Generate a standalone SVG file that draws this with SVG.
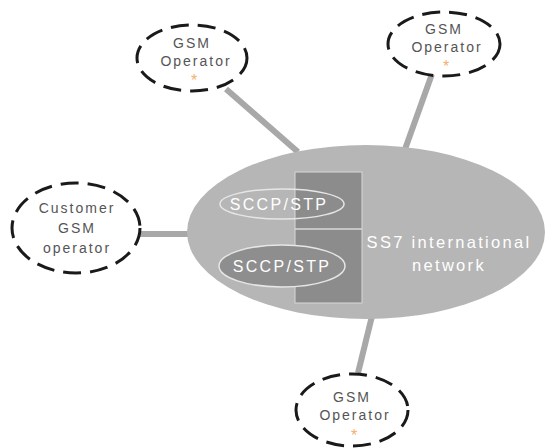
<svg xmlns="http://www.w3.org/2000/svg" width="546" height="448" viewBox="0 0 546 448">
<style>
.op{fill:#fff;stroke:#1a1a1a;stroke-width:3;stroke-dasharray:18 9}
.t{font-family:"Liberation Sans",Arial,sans-serif;font-size:14px;fill:#555;text-anchor:middle;letter-spacing:2px}
.ast{font-family:"Liberation Sans",Arial,sans-serif;font-size:16px;fill:#f2b070;text-anchor:middle}
.w{font-family:"Liberation Sans",Arial,sans-serif;fill:#fff;text-anchor:middle;letter-spacing:2.3px}
.c{stroke:#a8a8a8;stroke-width:6;fill:none}
</style>
<rect width="546" height="448" fill="#fff"/>
<g id="connectors">
<line class="c" x1="226" y1="89" x2="298" y2="152"/>
<line class="c" x1="432" y1="74" x2="404" y2="152"/>
<line class="c" x1="139" y1="234" x2="192" y2="234"/>
<line class="c" x1="373" y1="312" x2="358" y2="373"/>
</g>
<g id="ss7">
<ellipse cx="366" cy="232" rx="179" ry="87" fill="#b6b6b6"/>
<rect x="295" y="172" width="67" height="131" fill="#8c8c8c" stroke="#d8d8d8" stroke-width="1"/>
<line x1="295" y1="229" x2="362" y2="229" stroke="#d8d8d8" stroke-width="1.5"/>
<text class="w" x="449" y="248" font-size="16.5">SS7 international</text>
<text class="w" x="449" y="271" font-size="16.5">network</text>
</g>
<g id="sccp1">
<ellipse cx="282" cy="204" rx="62" ry="15" fill="none" stroke="#e6e6e6" stroke-width="1.5"/>
<text class="w" x="279" y="210" font-size="16">SCCP/STP</text>
</g>
<g id="sccp2">
<ellipse cx="282" cy="266" rx="63" ry="21" fill="#8e8e8e" stroke="#e6e6e6" stroke-width="1.5"/>
<text class="w" x="282" y="272" font-size="16">SCCP/STP</text>
</g>
<g id="op-top-left">
<ellipse class="op" cx="192" cy="58" rx="55" ry="33"/>
<text class="t" x="192" y="48">GSM</text>
<text class="t" x="196" y="66">Operator</text>
<text class="ast" x="194" y="86">*</text>
</g>
<g id="op-top-right">
<ellipse class="op" cx="444" cy="44" rx="56" ry="32"/>
<text class="t" x="444" y="34">GSM</text>
<text class="t" x="447" y="52">Operator</text>
<text class="ast" x="446" y="72">*</text>
</g>
<g id="op-left">
<ellipse class="op" cx="76" cy="228" rx="64" ry="45"/>
<text class="t" x="77" y="213">Customer</text>
<text class="t" x="77" y="233">GSM</text>
<text class="t" x="77" y="253">operator</text>
</g>
<g id="op-bottom">
<ellipse class="op" cx="352" cy="410" rx="56" ry="36"/>
<text class="t" x="352" y="402">GSM</text>
<text class="t" x="355" y="420">Operator</text>
<text class="ast" x="354" y="441">*</text>
</g>
</svg>
